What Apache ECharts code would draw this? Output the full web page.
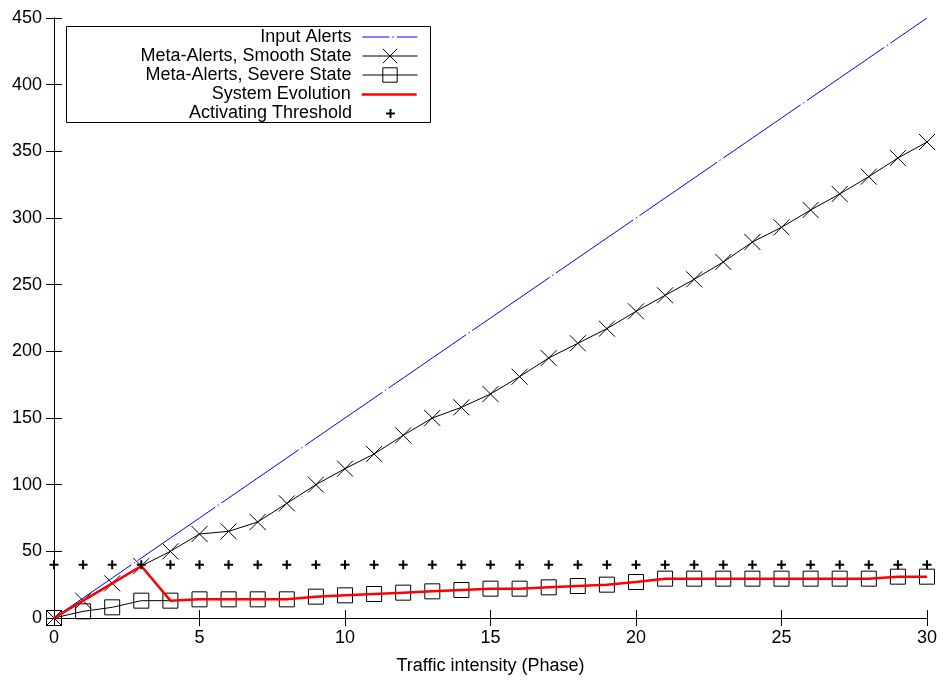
<!DOCTYPE html>
<html>
<head>
<meta charset="utf-8">
<script src="https://cdn.jsdelivr.net/npm/echarts@6/dist/echarts.min.js"></script>
<style>
html,body{margin:0;padding:0;background:#fff;}
#chart{width:943px;height:680px;}
</style>
</head>
<body>
<div id="chart"></div>
<script>
// Phases (x values)
var phases = [0,1,2,3,4,5,6,7,8,9,10,11,12,13,14,15,16,17,18,19,20,21,22,23,24,25,26,27,28,29,30];
// Input alerts (blue dash-dot)
var inputAlerts = [0,15,30,45,60,75,90,105,120,135,150,165,180,195,210,225,240,255,270,285,300,315,330,345,360,375,390,405,420,435,450];
// Meta-alerts, smooth state (x markers)
var smoothState = [0,13,26,39,50,63,65,72,86,100,112,123,137,150,158,168,181,195,206,217,230,242,254,267,282,293,306,318,331,345,357];
// Meta-alerts, severe state (square markers)
var severeState = [0,5,8,13,13,14,14,14,14,16,17,18,19,20,21,22,22,23,24,25,27,29.5,29.5,29.5,29.5,29.5,29.5,29.5,29.5,31,31];
// System evolution (red)
var systemEvolution = [0,13,26,39,13,14,14,14,14,16,17,18,19,20,21,22,22,23,24,25,27,29.5,29.5,29.5,29.5,29.5,29.5,29.5,29.5,31,31];
// Activating threshold (+ markers)
var threshold = [40,40,40,40,40,40,40,40,40,40,40,40,40,40,40,40,40,40,40,40,40,40,40,40,40,40,40,40,40,40,40];
var seriesNames = ['Input Alerts','Meta-Alerts, Smooth State','Meta-Alerts, Severe State','System Evolution','Activating Threshold'];
var xTicks = {min:0, max:30, interval:5};
var yTicks = {min:0, max:450, interval:50};
var xName = 'Traffic intensity (Phase)';

function pairs(ys){ return phases.map(function(x,i){ return [x, ys[i]]; }); }

var FONT = 'Liberation Sans, Arial, Helvetica, sans-serif';
var chart = echarts.init(document.getElementById('chart'), null, {renderer:'canvas'});

var crossPath = 'path://M0,0L10,10M10,0L0,10';
var plusPath = 'path://M3.5,0H5.5V3.5H9V5.5H5.5V9H3.5V5.5H0V3.5H3.5Z';

function legendFor(i, top, itemHeight, hideSymbol, lineStyle){
  var l = {
    data:[seriesNames[i]], orient:'vertical', align:'right', right:525, top:top,
    padding:0, itemWidth:55, itemHeight:itemHeight, selectedMode:false,
    textStyle:{fontFamily:FONT, fontSize:18, color:'#000', padding:[0,6,0,0]},
    lineStyle: lineStyle
  };
  if (hideSymbol) {
    l.itemStyle = {color:'rgba(0,0,0,0)', borderColor:'rgba(0,0,0,0)', borderWidth:0};
  } else {
    l.itemStyle = {borderWidth:1};
  }
  return l;
}

var axisCommon = {
  axisLine:{show:true, lineStyle:{color:'#000', width:1}},
  axisTick:{show:true, inside:true, length:8, lineStyle:{color:'#000', width:1}},
  splitLine:{show:false}
};

var option = {
  animation:false,
  backgroundColor:'#fff',
  grid:{left:54, right:16, top:18, bottom:58, containLabel:false},
  legend:[
    legendFor(0,28,14,true,{color:'#0000ff', width:1.2, type:[27,3,1.5,3]}),
    legendFor(1,47,18,false,{color:'#000', width:1}),
    legendFor(2,66,18,false,{color:'#000', width:1}),
    legendFor(3,85.5,14,true,{color:'#ff0000', width:2.5}),
    legendFor(4,104.5,11,false,{width:0})
  ],
  graphic:[{type:'rect', shape:{x:66.5, y:26.5, width:364, height:96}, style:{fill:'none', stroke:'#000', lineWidth:1}, z:100}],
  xAxis:[
    Object.assign({type:'value', min:xTicks.min, max:xTicks.max, interval:xTicks.interval, position:'bottom',
      name:xName, nameLocation:'middle', nameGap:39,
      nameTextStyle:{fontFamily:FONT, fontSize:18, color:'#000'},
      axisLabel:{fontFamily:FONT, fontSize:18, color:'#000', margin:11}}, axisCommon),
    Object.assign({type:'value', min:xTicks.min, max:xTicks.max, interval:xTicks.interval, position:'top',
      axisLabel:{show:false}}, axisCommon)
  ],
  yAxis:[
    Object.assign({type:'value', min:yTicks.min, max:yTicks.max, interval:yTicks.interval, position:'left',
      axisLabel:{fontFamily:FONT, fontSize:18, color:'#000', margin:12}}, axisCommon),
    Object.assign({type:'value', min:yTicks.min, max:yTicks.max, interval:yTicks.interval, position:'right',
      axisLabel:{show:false}}, axisCommon)
  ],
  series:[
    {name:seriesNames[0], type:'line', data:pairs(inputAlerts), symbol:'none', showSymbol:false,
      lineStyle:{color:'#0000ff', width:1, type:[94,3,1.5,3]}, itemStyle:{color:'#0000ff'}, z:2},
    {name:seriesNames[1], type:'line', data:pairs(smoothState), symbol:crossPath, symbolSize:16, showAllSymbol:true,
      lineStyle:{color:'#000', width:1}, itemStyle:{color:'transparent', borderColor:'#000', borderWidth:1}, z:3, clip:false},
    {name:seriesNames[2], type:'line', data:pairs(severeState), symbol:'rect', symbolSize:15, showAllSymbol:true,
      lineStyle:{color:'#000', width:1}, itemStyle:{color:'transparent', borderColor:'#000', borderWidth:1}, z:3, clip:false},
    {name:seriesNames[3], type:'line', data:pairs(systemEvolution), symbol:'none', showSymbol:false,
      lineStyle:{color:'#ff0000', width:2.5}, itemStyle:{color:'#ff0000'}, z:4},
    {name:seriesNames[4], type:'line', data:pairs(threshold), symbol:plusPath, symbolSize:9, showAllSymbol:true,
      lineStyle:{width:0, opacity:0}, itemStyle:{color:'#000'}, z:5, clip:false}
  ]
};
chart.setOption(option);
</script>
</body>
</html>
